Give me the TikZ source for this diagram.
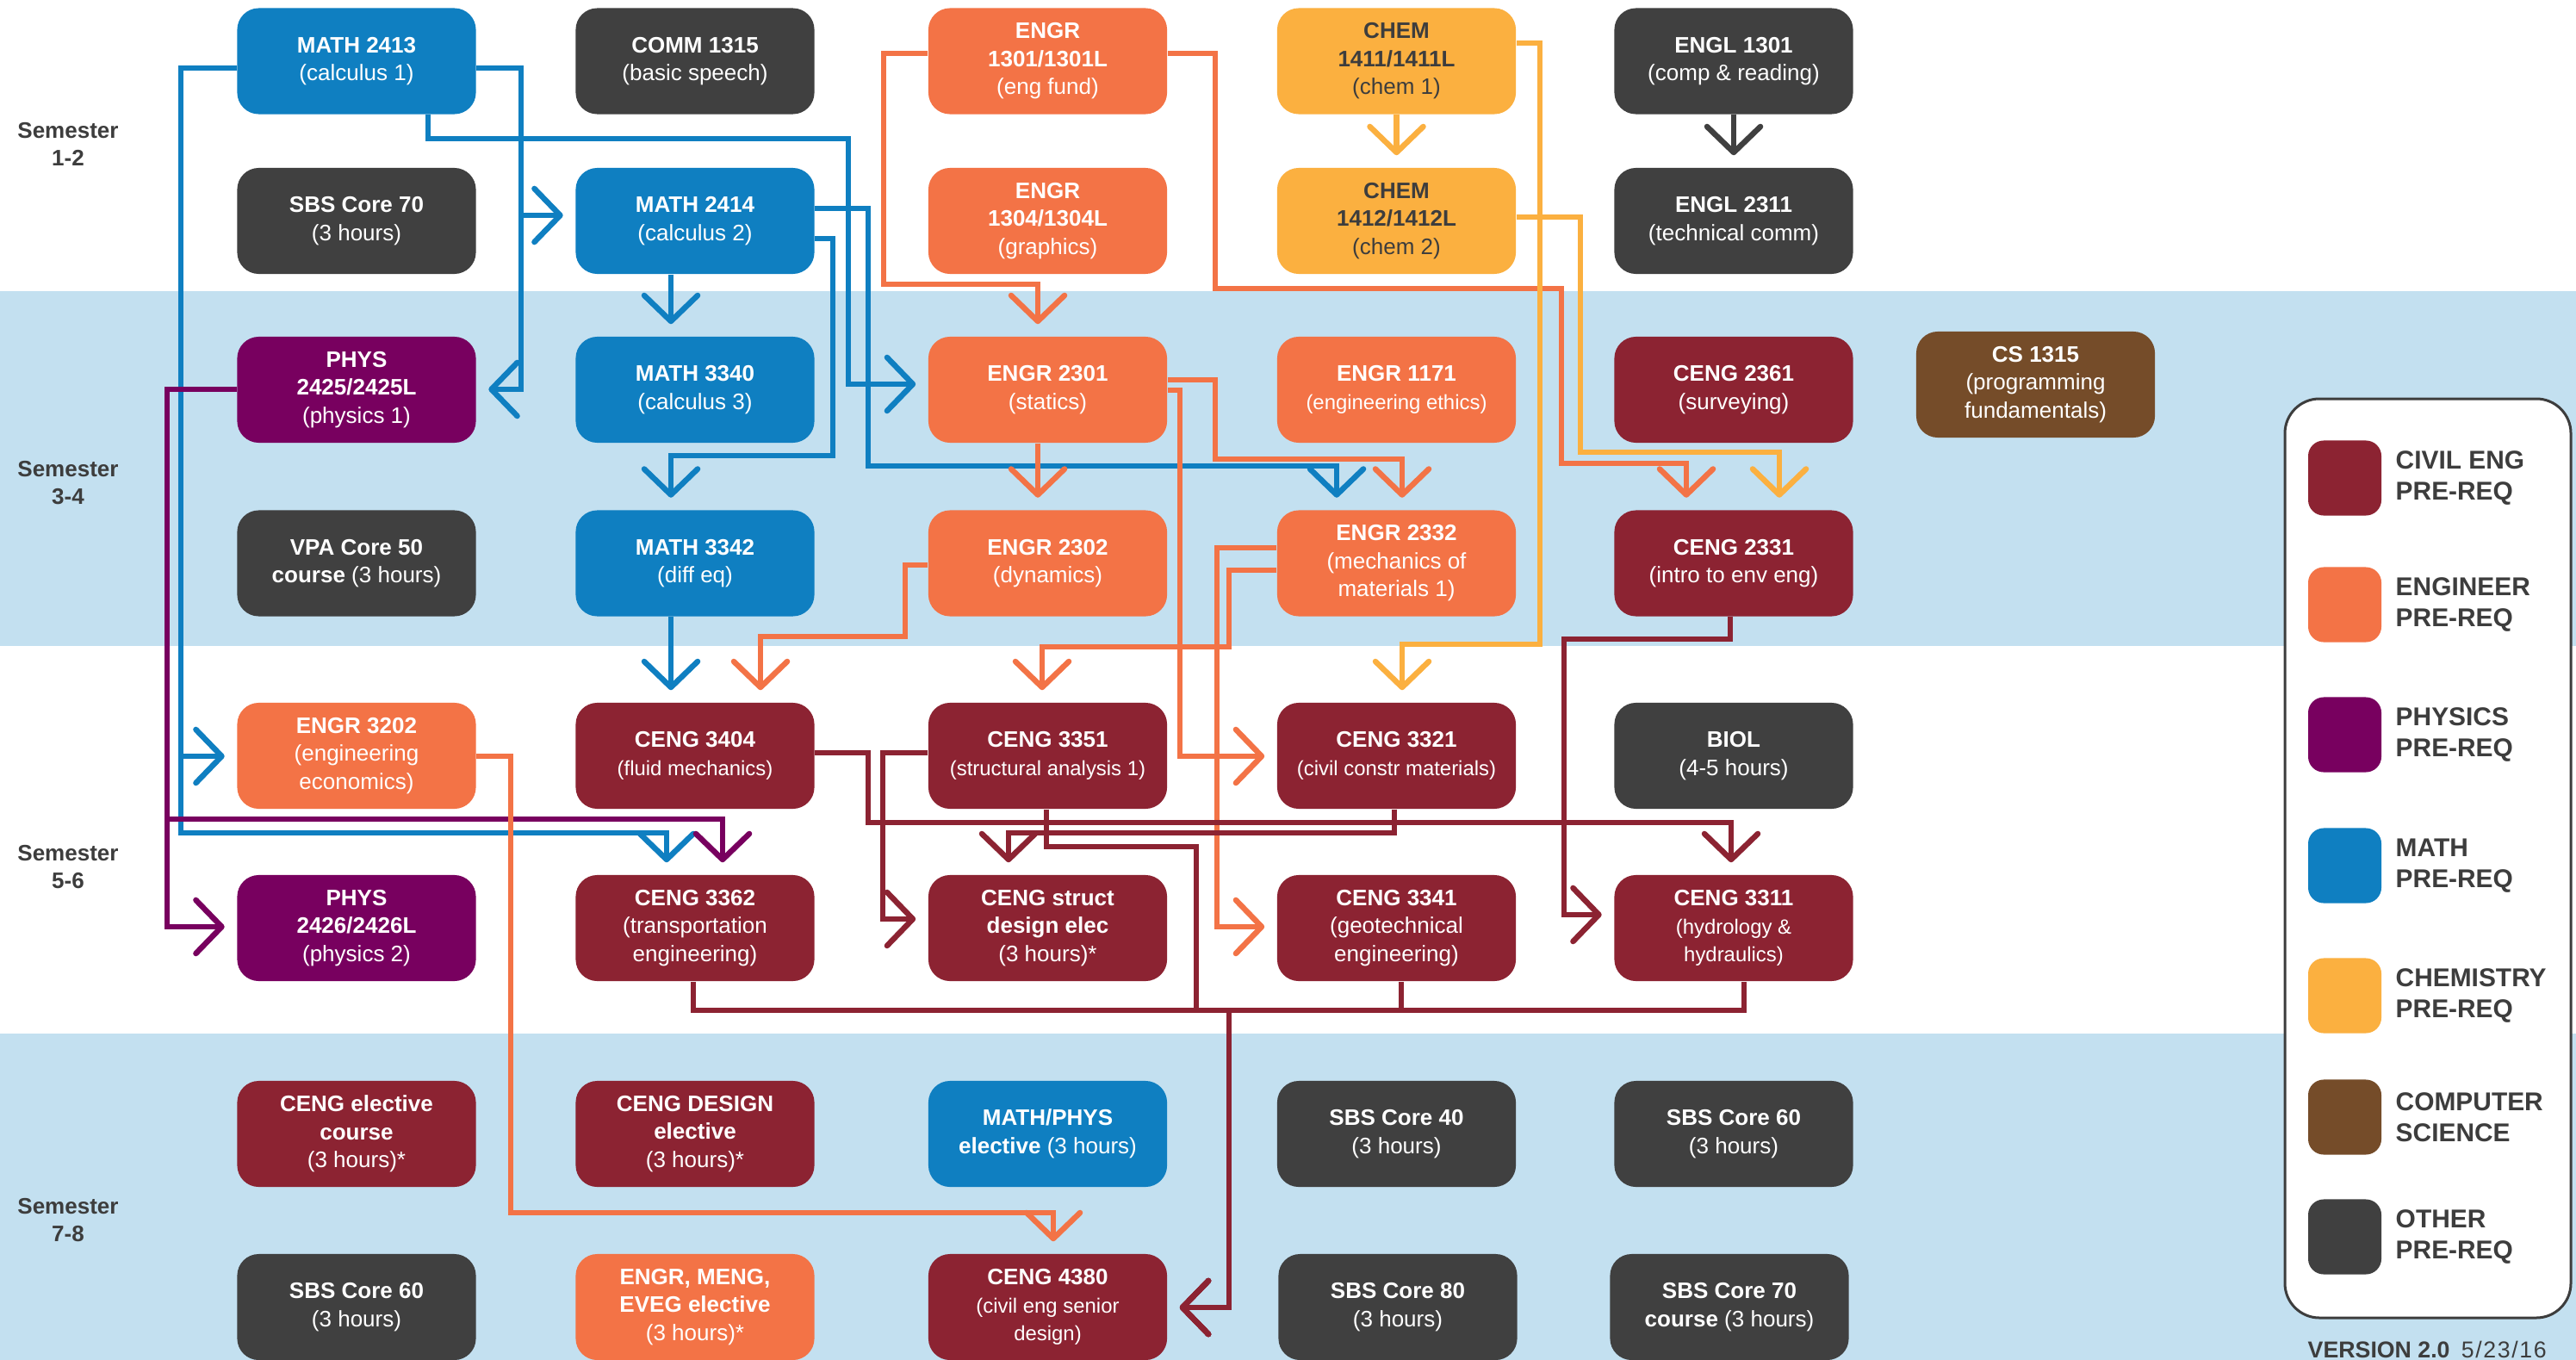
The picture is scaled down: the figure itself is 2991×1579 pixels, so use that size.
\documentclass[tikz,border=0pt]{standalone}
\usepackage{fontspec}
\setmainfont{Liberation Sans}
\usetikzlibrary{arrows.meta}
\definecolor{civ}{HTML}{8C2332}
\definecolor{eng}{HTML}{F37346}
\definecolor{phy}{HTML}{78005F}
\definecolor{mth}{HTML}{0F7FC1}
\definecolor{chm}{HTML}{FBB040}
\definecolor{csb}{HTML}{754C29}
\definecolor{oth}{HTML}{404040}
\definecolor{band}{HTML}{C3E0F0}
\definecolor{lbl}{HTML}{3D3D3D}
\newcommand\bxfont{\fontsize{7.4pt}{9.25pt}\selectfont}
\newcommand\sm{\fontsize{6.8pt}{7.9pt}\selectfont}
\tikzset{
  box/.style={rectangle, rounded corners=0.25cm, minimum width=2.77cm, minimum height=1.23cm,
    inner sep=0pt, align=center, text=white, font=\bxfont},
  civbox/.style={box, fill=civ},
  engbox/.style={box, fill=eng},
  phybox/.style={box, fill=phy},
  mthbox/.style={box, fill=mth},
  chmbox/.style={box, fill=chm, text=lbl},
  csbox/.style={box, fill=csb},
  othbox/.style={box, fill=oth},
  sem/.style={align=center, text=lbl, font=\fontsize{7.4pt}{9.1pt}\selectfont\bfseries, inner sep=0pt},
  swatch/.style={rectangle, rounded corners=0.18cm, minimum width=0.85cm, minimum height=0.87cm, inner sep=0pt},
  legtext/.style={anchor=west, align=left, text=lbl, inner sep=0pt, font=\fontsize{8.5pt}{10.2pt}\selectfont\bfseries},
  wire/.style={line width=0.065cm},
  arr/.style={wire, -{Straight Barb[length=0.3cm,width=0.62cm,round]}, shorten >=0.14cm},
}
\begin{document}
\begin{tikzpicture}[x=0.01cm,y=-0.01cm]
\useasboundingbox (0,0) rectangle (2991,1579);
\fill[white] (0,0) rectangle (2991,1579);
\fill[band] (0,338) rectangle (2991,750);
\fill[band] (0,1200) rectangle (2991,1579);

% semester labels
\node[sem] (s12) at (79,167) {Semester\\1-2};
\node[sem] (s34) at (79,561) {Semester\\3-4};
\node[sem] (s56) at (79,1007) {Semester\\5-6};
\node[sem] (s78) at (79,1417) {Semester\\7-8};

% row 1
\node[mthbox] (m2413) at (414,71) {\textbf{MATH 2413}\\(calculus 1)};
\node[othbox] (comm) at (807,71) {\textbf{COMM 1315}\\(basic speech)};
\node[engbox] (e1301) at (1216.5,71) {\textbf{ENGR}\\\textbf{1301/1301L}\\(eng fund)};
\node[chmbox] (ch1411) at (1621.5,71) {\textbf{CHEM}\\\textbf{1411/1411L}\\(chem 1)};
\node[othbox] (engl1301) at (2013,71) {\textbf{ENGL 1301}\\(comp \& reading)};
% row 2
\node[othbox] (sbs70) at (414,256.5) {\textbf{SBS Core 70}\\(3 hours)};
\node[mthbox] (m2414) at (807,256.5) {\textbf{MATH 2414}\\(calculus 2)};
\node[engbox] (e1304) at (1216.5,256.5) {\textbf{ENGR}\\\textbf{1304/1304L}\\(graphics)};
\node[chmbox] (ch1412) at (1621.5,256.5) {\textbf{CHEM}\\\textbf{1412/1412L}\\(chem 2)};
\node[othbox] (engl2311) at (2013,256.5) {\textbf{ENGL 2311}\\(technical comm)};
% row 3
\node[phybox] (p2425) at (414,452.5) {\textbf{PHYS}\\\textbf{2425/2425L}\\(physics 1)};
\node[mthbox] (m3340) at (807,452.5) {\textbf{MATH 3340}\\(calculus 3)};
\node[engbox] (e2301) at (1216.5,452.5) {\textbf{ENGR 2301}\\(statics)};
\node[engbox] (e1171) at (1621.5,452.5) {\textbf{ENGR 1171}\\{\sm (engineering ethics)}};
\node[civbox] (c2361) at (2013,452.5) {\textbf{CENG 2361}\\(surveying)};
\node[csbox] (cs1315) at (2363.5,446.5) {\textbf{CS 1315}\\(programming\\fundamentals)};
% row 4
\node[othbox] (vpa) at (414,654) {\textbf{VPA Core 50}\\\textbf{course} (3 hours)};
\node[mthbox] (m3342) at (807,654) {\textbf{MATH 3342}\\(diff eq)};
\node[engbox] (e2302) at (1216.5,654) {\textbf{ENGR 2302}\\(dynamics)};
\node[engbox] (e2332) at (1621.5,654) {\textbf{ENGR 2332}\\(mechanics of\\materials 1)};
\node[civbox] (c2331) at (2013,654) {\textbf{CENG 2331}\\(intro to env eng)};
% row 5
\node[engbox] (e3202) at (414,877.5) {\textbf{ENGR 3202}\\(engineering\\economics)};
\node[civbox] (c3404) at (807,877.5) {\textbf{CENG 3404}\\{\sm (fluid mechanics)}};
\node[civbox] (c3351) at (1216.5,877.5) {\textbf{CENG 3351}\\{\sm (structural analysis 1)}};
\node[civbox] (c3321) at (1621.5,877.5) {\textbf{CENG 3321}\\{\sm (civil constr materials)}};
\node[othbox] (biol) at (2013,877.5) {\textbf{BIOL}\\(4-5 hours)};
% row 6
\node[phybox] (p2426) at (414,1077.5) {\textbf{PHYS}\\\textbf{2426/2426L}\\(physics 2)};
\node[civbox] (c3362) at (807,1077.5) {\textbf{CENG 3362}\\(transportation\\engineering)};
\node[civbox] (cstruct) at (1216.5,1077.5) {\textbf{CENG struct}\\\textbf{design elec}\\(3 hours)*};
\node[civbox] (c3341) at (1621.5,1077.5) {\textbf{CENG 3341}\\(geotechnical\\engineering)};
\node[civbox] (c3311) at (2013,1077.5) {\textbf{CENG 3311}\\{\sm (hydrology \&}\\{\sm hydraulics)}};
% row 7
\node[civbox] (celec) at (414,1316.5) {\textbf{CENG elective}\\\textbf{course}\\(3 hours)*};
\node[civbox] (cdes) at (807,1316.5) {\textbf{CENG DESIGN}\\\textbf{elective}\\(3 hours)*};
\node[mthbox] (mpel) at (1216.5,1316.5) {\textbf{MATH/PHYS}\\\textbf{elective} (3 hours)};
\node[othbox] (sbs40) at (1621.5,1316.5) {\textbf{SBS Core 40}\\(3 hours)};
\node[othbox] (sbs60b) at (2013,1316.5) {\textbf{SBS Core 60}\\(3 hours)};
% row 8
\node[othbox] (sbs60) at (414,1517.5) {\textbf{SBS Core 60}\\(3 hours)};
\node[engbox] (engel) at (807,1517.5) {\textbf{ENGR, MENG,}\\\textbf{EVEG elective}\\(3 hours)*};
\node[civbox] (c4380) at (1216.5,1517.5) {\textbf{CENG 4380}\\{\sm (civil eng senior}\\{\sm design)}};
\node[othbox] (sbs80) at (1623,1517.5) {\textbf{SBS Core 80}\\(3 hours)};
\node[othbox] (sbs70b) at (2008,1517.5) {\textbf{SBS Core 70}\\\textbf{course} (3 hours)};

% math connectors
\draw[arr,mth] (m2413.east |- 0,79) -- (605,79) -- (605,250) -- (m2414.west |- 0,250);
\draw[arr,mth] (m2413.east |- 0,79) -- (605,79) -- (605,452) -- (p2425.east |- 0,452);
\draw[arr,mth] (m2413.west |- 0,79) -- (210,79) -- (210,878) -- (e3202.west |- 0,878);
\draw[arr,mth] (m2413.west |- 0,79) -- (210,79) -- (210,967) -- (774,967) -- (c3362.north -| 774,0);
\draw[arr,mth] (m2413.south -| 497,0) -- (497,161) -- (985,161) -- (985,446) -- (e2301.west |- 0,446);
\draw[arr,mth] (m2414.south -| 779,0) -- (m3340.north -| 779,0);
\draw[arr,mth] (m2414.east |- 0,277) -- (967,277) -- (967,529) -- (779,529) -- (m3342.north -| 779,0);
\draw[arr,mth] (m2414.east |- 0,242) -- (1008,242) -- (1008,541) -- (1552,541) -- (e2332.north -| 1552,0);
\draw[arr,mth] (m3342.south -| 779,0) -- (c3404.north -| 779,0);
% physics connectors
\draw[arr,phy] (p2425.west |- 0,452) -- (194,452) -- (194,1076) -- (p2426.west |- 0,1076);
\draw[arr,phy] (p2425.west |- 0,452) -- (194,452) -- (194,951) -- (839,951) -- (c3362.north -| 839,0);
% engineering connectors
\draw[arr,eng] (e1301.west |- 0,62) -- (1026,62) -- (1026,330) -- (1205,330) -- (e2301.north -| 1205,0);
\draw[arr,eng] (e1301.east |- 0,62) -- (1411,62) -- (1411,335) -- (1813,335) -- (1813,538) -- (1958,538) -- (c2331.north -| 1958,0);
\draw[arr,eng] (e2301.south -| 1205,0) -- (e2302.north -| 1205,0);
\draw[arr,eng] (e2301.east |- 0,441) -- (1411,441) -- (1411,533) -- (1628,533) -- (e2332.north -| 1628,0);
\draw[arr,eng] (e2301.east |- 0,453) -- (1370,453) -- (1370,878) -- (c3321.west |- 0,878);
\draw[arr,eng] (e2302.west |- 0,656) -- (1051,656) -- (1051,739) -- (883,739) -- (c3404.north -| 883,0);
\draw[arr,eng] (e2332.west |- 0,636) -- (1413,636) -- (1413,1076) -- (c3341.west |- 0,1076);
\draw[arr,eng] (e2332.west |- 0,662) -- (1427,662) -- (1427,751) -- (1210,751) -- (c3351.north -| 1210,0);
\draw[arr,eng] (e3202.east |- 0,878) -- (593,878) -- (593,1408) -- (1223,1408) -- (c4380.north -| 1223,0);
% chemistry connectors
\draw[arr,chm] (ch1411.south) -- (ch1412.north);
\draw[arr,chm] (ch1411.east |- 0,50) -- (1788,50) -- (1788,748) -- (1628,748) -- (c3321.north -| 1628,0);
\draw[arr,chm] (ch1412.east |- 0,252) -- (1835,252) -- (1835,525) -- (2066,525) -- (c2331.north -| 2066,0);
% other
\draw[arr,oth] (engl1301.south) -- (engl2311.north);
% civil connectors
\draw[arr,civ] (c2331.south -| 2009,0) -- (2009,742) -- (1816,742) -- (1816,1062) -- (c3311.west |- 0,1062);
\draw[arr,civ] (c3404.east |- 0,874) -- (1008,874) -- (1008,955) -- (2010,955) -- (c3311.north -| 2010,0);
\draw[arr,civ] (c3351.west |- 0,874) -- (1025,874) -- (1025,1067) -- (cstruct.west |- 0,1067);
\draw[arr,civ] (c3321.south -| 1619,0) -- (1619,967) -- (1171,967) -- (cstruct.north -| 1171,0);
\draw[arr,civ] (c3351.south -| 1215,0) -- (1215,983) -- (1389,983) -- (1389,1173) -- (1427,1173) -- (1427,1518) -- (c4380.east |- 0,1518);
\draw[arr,civ] (c3362.south -| 805,0) -- (805,1173) -- (1427,1173) -- (1427,1518) -- (c4380.east |- 0,1518);
\draw[arr,civ] (c3341.south -| 1627,0) -- (1627,1173) -- (1427,1173) -- (1427,1518) -- (c4380.east |- 0,1518);
\draw[arr,civ] (c3311.south -| 2025,0) -- (2025,1173) -- (1427,1173) -- (1427,1518) -- (c4380.east |- 0,1518);

% legend
\draw[draw=lbl, line width=0.03cm, fill=white, rounded corners=0.4cm] (2653,463) rectangle (2985,1530);
\node[swatch, fill=civ] (lg1) at (2722.5,555) {};
\node[legtext] (lt1) at (2781,555) {CIVIL ENG\\PRE-REQ};
\node[swatch, fill=eng] (lg2) at (2722.5,702) {};
\node[legtext] (lt2) at (2781,702) {ENGINEER\\PRE-REQ};
\node[swatch, fill=phy] (lg3) at (2722.5,853) {};
\node[legtext] (lt3) at (2781,853) {PHYSICS\\PRE-REQ};
\node[swatch, fill=mth] (lg4) at (2722.5,1005) {};
\node[legtext] (lt4) at (2781,1005) {MATH\\PRE-REQ};
\node[swatch, fill=chm] (lg5) at (2722.5,1156) {};
\node[legtext] (lt5) at (2781,1156) {CHEMISTRY\\PRE-REQ};
\node[swatch, fill=csb] (lg6) at (2722.5,1297) {};
\node[legtext] (lt6) at (2781,1297) {COMPUTER\\SCIENCE};
\node[swatch, fill=oth] (lg7) at (2722.5,1436) {};
\node[legtext] (lt7) at (2781,1436) {OTHER\\PRE-REQ};
\node[anchor=base west, inner sep=0pt, text=lbl, font=\fontsize{7.6pt}{8pt}\selectfont] (ver) at (2679,1576) {\textbf{VERSION 2.0}\enspace{\addfontfeature{LetterSpace=6}5/23/16}};
\end{tikzpicture}
\end{document}
